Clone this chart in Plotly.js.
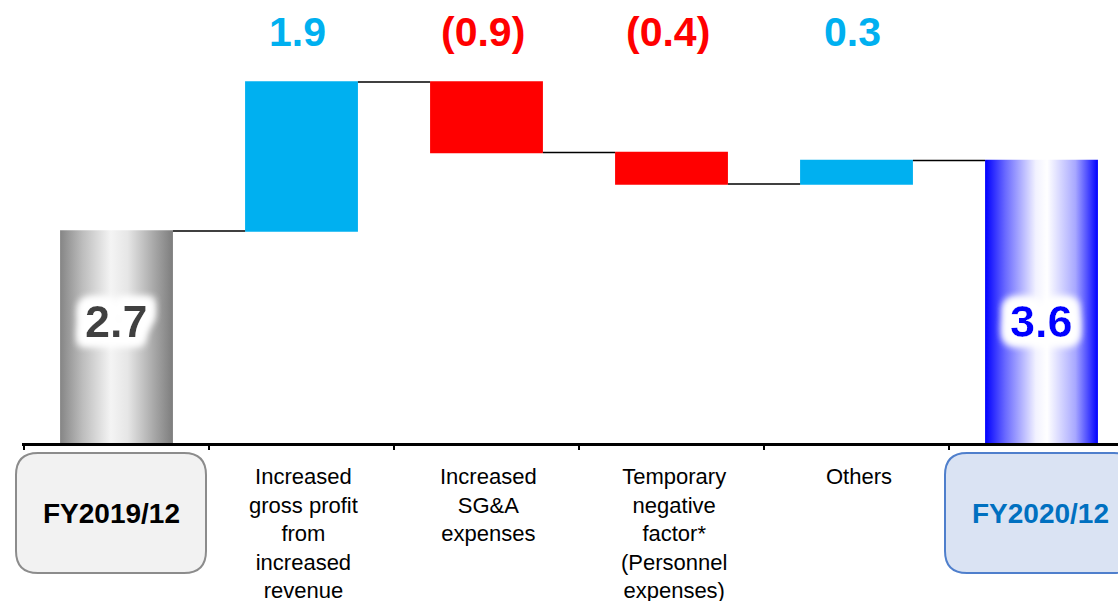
<!DOCTYPE html>
<html>
<head>
<meta charset="utf-8">
<script src="https://cdn.plot.ly/plotly-3.0.1.min.js"></script>
<style>
  html, body { margin: 0; padding: 0; background: #fff; }
  #chart { width: 1118px; height: 601px; }
</style>
</head>
<body>
<div id="chart"></div>
<script>
// Operating profit bridge, FY2019/12 -> FY2020/12
const categories = [
  'FY2019/12',
  'Increased gross profit from increased revenue',
  'Increased SG&A expenses',
  'Temporary negative factor* (Personnel expenses)',
  'Others',
  'FY2020/12'
];
const tickLabels = [
  'FY2019/12',
  'Increased<br>gross profit<br>from<br>increased<br>revenue',
  'Increased<br>SG&A<br>expenses',
  'Temporary<br>negative<br>factor*<br>(Personnel<br>expenses)',
  'Others',
  'FY2020/12'
];
const measures = ['absolute', 'relative', 'relative', 'relative', 'relative', 'absolute'];
const values = [2.7, 1.9, -0.9, -0.4, 0.3, 3.6];

// ---- layout constants (pixels) ----
const W = 1118, H = 601;
const M = { l: 22, r: 0, t: 0, b: 158 };
const plotW = W - M.l - M.r;
const plotH = H - M.t - M.b;
const pxPerUnit = 78.5;          // vertical scale
const pxPerCat = 185;            // category pitch
const firstCenterPx = 116.5;     // centre of first category
const FONT = 'Liberation Sans, Arial, Helvetica, sans-serif';

const xLeft = -(firstCenterPx - M.l) / pxPerCat;
const xRange = [xLeft, xLeft + plotW / pxPerCat];
const yRange = [0, plotH / pxPerUnit];

const px2paperX = p => (p - M.l) / plotW;
const px2paperY = p => (M.t + plotH - p) / plotH;

const COLORS = { up: '#00b0f0', down: '#ff0000', startText: '#404040', endText: '#0000ff' };

const fmt = v => v < 0 ? '(' + Math.abs(v).toFixed(1) + ')' : v.toFixed(1);

const trace = {
  type: 'waterfall',
  x: categories,
  y: values,
  measure: measures,
  width: 0.61,
  textposition: 'none',
  hoverinfo: 'skip',
  increasing: { marker: { color: COLORS.up, line: { width: 0 } } },
  decreasing: { marker: { color: COLORS.down, line: { width: 0 } } },
  totals: { marker: { color: '#a6a6a6', line: { width: 0 } } },
  connector: { mode: 'between', line: { color: '#000', width: 1.5, dash: 'solid' } }
};

const annotations = [];
const shapes = [];
const glowIdx = [];

// change labels above the bars
values.forEach((v, i) => {
  if (measures[i] !== 'relative') return;
  annotations.push({
    xref: 'x', yref: 'paper', x: categories[i], y: px2paperY(32), xshift: -4,
    xanchor: 'center', yanchor: 'middle', showarrow: false,
    text: '<b>' + fmt(v) + '</b>',
    font: { family: FONT, size: 41, color: v < 0 ? COLORS.down : COLORS.up }
  });
});

// level labels inside the end bars
[[0, COLORS.startText], [values.length - 1, COLORS.endText]].forEach(([i, c]) => {
  glowIdx.push(annotations.length);
  annotations.push({
    xref: 'x', yref: 'paper', x: categories[i], y: px2paperY(321),
    xanchor: 'center', yanchor: 'middle', showarrow: false,
    text: '<b>' + fmt(values[i]) + '</b>',
    font: { family: FONT, size: 45, color: c }
  });
});

// category captions for the movements
categories.forEach((c, i) => {
  if (measures[i] !== 'relative') return;
  annotations.push({
    xref: 'x', yref: 'paper', x: c, y: px2paperY(462), xshift: 2,
    xanchor: 'center', yanchor: 'top', showarrow: false, align: 'center',
    text: tickLabels[i],
    font: { family: FONT, size: 22, color: '#000' }
  });
});

// rounded boxes for the two period labels
function roundedRect(x0, y0, x1, y1, r) {
  const X = px2paperX, Y = px2paperY;
  const rx = r / plotW, ry = r / plotH;
  const a = X(x0), b = X(x1), top = Y(y0), bot = Y(y1);
  return 'M' + (a + rx) + ',' + top +
    ' L' + (b - rx) + ',' + top + ' Q' + b + ',' + top + ' ' + b + ',' + (top - ry) +
    ' L' + b + ',' + (bot + ry) + ' Q' + b + ',' + bot + ' ' + (b - rx) + ',' + bot +
    ' L' + (a + rx) + ',' + bot + ' Q' + a + ',' + bot + ' ' + a + ',' + (bot + ry) +
    ' L' + a + ',' + (top - ry) + ' Q' + a + ',' + top + ' ' + (a + rx) + ',' + top + ' Z';
}
const periodBoxes = [
  { i: 0, x0: 16, x1: 206, fill: '#f2f2f2', line: '#8c8c8c', text: '#000' },
  { i: values.length - 1, x0: 945, x1: 1136, fill: '#dae3f3', line: '#4f7fcc', text: '#0070c0' }
];
periodBoxes.forEach(bx => {
  shapes.push({
    type: 'path', xref: 'paper', yref: 'paper', layer: 'above',
    path: roundedRect(bx.x0, 453, bx.x1, 573, 22),
    fillcolor: bx.fill, line: { color: bx.line, width: 2 }
  });
  annotations.push({
    xref: 'paper', yref: 'paper', x: px2paperX((bx.x0 + bx.x1) / 2), y: px2paperY(513),
    xanchor: 'center', yanchor: 'middle', showarrow: false,
    text: '<b>' + tickLabels[bx.i] + '</b>',
    font: { family: FONT, size: 28, color: bx.text }
  });
});

const layout = {
  width: W, height: H,
  margin: M,
  paper_bgcolor: '#fff', plot_bgcolor: '#fff',
  showlegend: false,
  font: { family: FONT },
  xaxis: {
    type: 'category', range: xRange, fixedrange: true,
    showline: true, linecolor: '#000', linewidth: 3,
    ticks: 'outside', tickson: 'boundaries', ticklen: 4, tickwidth: 2, tickcolor: '#000',
    showticklabels: false, showgrid: false, zeroline: false
  },
  yaxis: { range: yRange, visible: false, fixedrange: true, showgrid: false, zeroline: false },
  annotations: annotations,
  shapes: shapes
};

// cylinder-style shading for the two level bars
const GRADIENTS = {
  gradStart: [[0, '#858585'], [0.2, '#bdbdbd'], [0.45, '#f4f4f4'], [0.6, '#e6e6e6'], [0.85, '#a3a3a3'], [1, '#7d7d7d']],
  gradEnd: [[0, '#0000ff'], [0.18, '#6a6aff'], [0.45, '#f2f2ff'], [0.55, '#ffffff'], [0.8, '#a8a8ff'], [1, '#0000ff']]
};
const SVGNS = 'http://www.w3.org/2000/svg';

function ensureDefs(gd) {
  const svg = gd.querySelector('svg.main-svg');
  let defs = svg.querySelector('defs');
  if (!defs) { defs = document.createElementNS(SVGNS, 'defs'); svg.insertBefore(defs, svg.firstChild); }
  Object.keys(GRADIENTS).forEach(id => {
    if (defs.querySelector('#' + id)) return;
    const g = document.createElementNS(SVGNS, 'linearGradient');
    g.setAttribute('id', id);
    g.setAttribute('x1', '0'); g.setAttribute('x2', '1');
    g.setAttribute('y1', '0'); g.setAttribute('y2', '0');
    GRADIENTS[id].forEach(([o, c]) => {
      const s = document.createElementNS(SVGNS, 'stop');
      s.setAttribute('offset', o); s.setAttribute('stop-color', c);
      g.appendChild(s);
    });
    defs.appendChild(g);
  });
  if (!defs.querySelector('#labelGlow')) {
    const f = document.createElementNS(SVGNS, 'filter');
    f.setAttribute('id', 'labelGlow');
    f.setAttribute('x', '-40%'); f.setAttribute('y', '-60%');
    f.setAttribute('width', '180%'); f.setAttribute('height', '220%');
    f.innerHTML =
      '<feMorphology in="SourceAlpha" operator="dilate" radius="7" result="d"/>' +
      '<feGaussianBlur in="d" stdDeviation="4" result="b"/>' +
      '<feFlood flood-color="#ffffff"/>' +
      '<feComposite in2="b" operator="in" result="g"/>' +
      '<feMerge><feMergeNode in="g"/><feMergeNode in="g"/><feMergeNode in="g"/><feMergeNode in="SourceGraphic"/></feMerge>';
    defs.appendChild(f);
  }
}

function decorate(gd) {
  ensureDefs(gd);
  const bars = gd.querySelectorAll('.waterfalllayer .point path');
  if (bars[0]) bars[0].style.fill = 'url(#gradStart)';
  if (bars[values.length - 1]) bars[values.length - 1].style.fill = 'url(#gradEnd)';
  glowIdx.forEach(k => {
    const t = gd.querySelector('.annotation[data-index="' + k + '"] text');
    if (t) t.setAttribute('filter', 'url(#labelGlow)');
  });
}

const gd = document.getElementById('chart');
Plotly.newPlot(gd, [trace], layout, { staticPlot: true, displayModeBar: false }).then(() => {
  decorate(gd);
  gd.on('plotly_afterplot', () => decorate(gd));
});
</script>
</body>
</html>
